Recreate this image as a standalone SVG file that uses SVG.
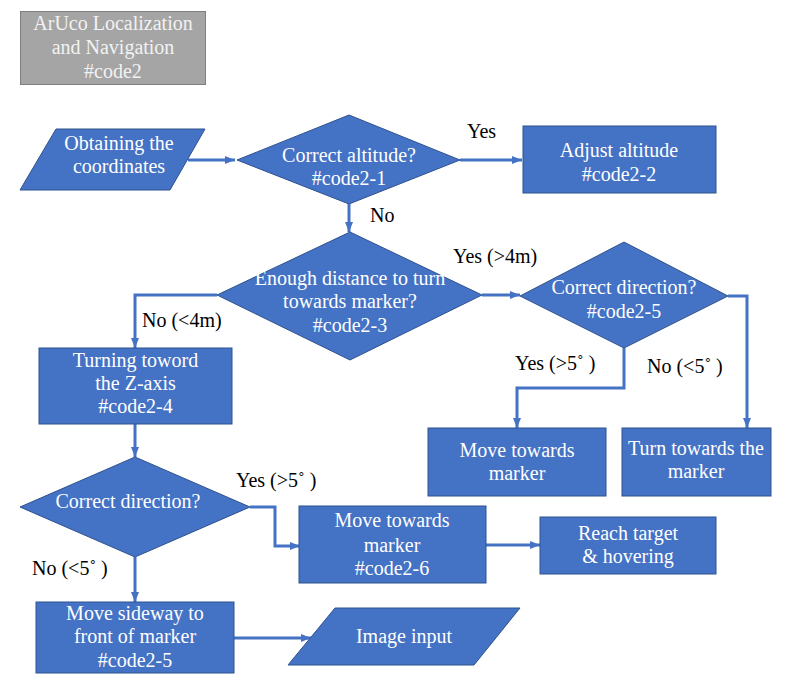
<svg xmlns="http://www.w3.org/2000/svg" width="786" height="688" viewBox="0 0 786 688" font-family="'Liberation Serif', 'Times New Roman', Tinos, 'DejaVu Serif', serif">
<style>
text{font-family:'Liberation Serif','Times New Roman',Tinos,'DejaVu Serif',serif;font-size:20px}
.n{fill:#4472c4;stroke:#2f528f;stroke-width:1}
.t{fill:#ffffff;text-anchor:middle}
.l{fill:#000000}
.c{fill:none;stroke:#4472c4;stroke-width:3}
</style>
<defs>
<marker id="ah" markerUnits="userSpaceOnUse" markerWidth="10" markerHeight="10" refX="10" refY="5" orient="auto">
<path d="M0,1 L10,5 L0,9 z" fill="#4472c4"/>
</marker>
</defs>
<rect width="786" height="688" fill="#ffffff"/>
<g id="title">
<rect x="20.5" y="11.5" width="185" height="73" fill="#a5a5a5" stroke="#7f7f7f" stroke-width="1"/>
<text class="t" x="113" y="30" style="fill:#f2f2f2">ArUco Localization</text>
<text class="t" x="113" y="54" style="fill:#f2f2f2">and Navigation</text>
<text class="t" x="113" y="78" style="fill:#f2f2f2">#code2</text>
</g>
<g id="connectors">
<path class="c" d="M188,160 H235" marker-end="url(#ah)"/>
<path class="c" d="M460,160 H522" marker-end="url(#ah)"/>
<path class="c" d="M349,204 V232" marker-end="url(#ah)"/>
<path class="c" d="M217,295 H135 V348" marker-end="url(#ah)"/>
<path class="c" d="M482,295 H520" marker-end="url(#ah)"/>
<path class="c" d="M728,296 H747 V428" marker-end="url(#ah)"/>
<path class="c" d="M624,348 V388 H517 V428" marker-end="url(#ah)"/>
<path class="c" d="M135,424 V457" marker-end="url(#ah)"/>
<path class="c" d="M250,507 H275 V546 H300" marker-end="url(#ah)"/>
<path class="c" d="M486,545 H540" marker-end="url(#ah)"/>
<path class="c" d="M135,557 V602" marker-end="url(#ah)"/>
<path class="c" d="M234,638 H311" marker-end="url(#ah)"/>
</g>
<g id="labels">
<text class="l" x="467" y="138">Yes</text>
<text class="l" x="370" y="222">No</text>
<text class="l" x="142" y="327">No (&lt;4m)</text>
<text class="l" x="453" y="263">Yes (&gt;4m)</text>
<text class="l" x="515" y="370">Yes (&gt;5˚ )</text>
<text class="l" x="647" y="373">No (&lt;5˚ )</text>
<text class="l" x="236" y="487">Yes (&gt;5˚ )</text>
<text class="l" x="32" y="575">No (&lt;5˚ )</text>
</g>
<g id="obtain">
<polygon class="n" points="56,129 205,129 170,190 20,190"/>
<text class="t" x="119" y="150">Obtaining the</text>
<text class="t" x="119" y="173">coordinates</text>
</g>
<g id="code2-1">
<polygon class="n" points="349,115 460,160 349,204 237,160"/>
<text class="t" x="349" y="162">Correct altitude?</text>
<text class="t" x="349" y="185">#code2-1</text>
</g>
<g id="code2-2">
<rect class="n" x="523" y="126" width="193" height="67"/>
<text class="t" x="619" y="157">Adjust altitude</text>
<text class="t" x="619" y="181">#code2-2</text>
</g>
<g id="code2-3">
<polygon class="n" points="350,232 482,295 350,360 217,295"/>
<text class="t" x="350" y="285">Enough distance to turn</text>
<text class="t" x="350" y="308">towards marker?</text>
<text class="t" x="350" y="332">#code2-3</text>
</g>
<g id="code2-5a">
<polygon class="n" points="624,242 728,296 624,348 520,296"/>
<text class="t" x="624" y="294">Correct direction?</text>
<text class="t" x="624" y="318">#code2-5</text>
</g>
<g id="move-right">
<rect class="n" x="428" y="428" width="178" height="68"/>
<text class="t" x="517" y="457">Move towards</text>
<text class="t" x="517" y="480">marker</text>
</g>
<g id="turn-marker">
<rect class="n" x="622" y="428" width="149" height="68"/>
<text class="t" x="696" y="455">Turn towards the</text>
<text class="t" x="696" y="478">marker</text>
</g>
<g id="code2-4">
<rect class="n" x="39" y="348" width="193" height="76"/>
<text class="t" x="135.5" y="367">Turning toword</text>
<text class="t" x="135.5" y="390">the Z-axis</text>
<text class="t" x="135.5" y="413">#code2-4</text>
</g>
<g id="direction2">
<polygon class="n" points="135,457 250,507 135,557 20,507"/>
<text class="t" x="128" y="508">Correct direction?</text>
</g>
<g id="code2-6">
<rect class="n" x="299" y="506" width="187" height="77"/>
<text class="t" x="392" y="527">Move towards</text>
<text class="t" x="392" y="552">marker</text>
<text class="t" x="392" y="575">#code2-6</text>
</g>
<g id="reach">
<rect class="n" x="540" y="517" width="176" height="57"/>
<text class="t" x="628" y="540">Reach target</text>
<text class="t" x="628" y="563">&amp; hovering</text>
</g>
<g id="code2-5b">
<rect class="n" x="36" y="602" width="198" height="71"/>
<text class="t" x="135" y="620">Move sideway to</text>
<text class="t" x="135" y="643">front of marker</text>
<text class="t" x="135" y="667">#code2-5</text>
</g>
<g id="image-input">
<polygon class="n" points="335,608 520,608 474,665 288,665"/>
<text class="t" x="404" y="643">Image input</text>
</g>
</svg>
